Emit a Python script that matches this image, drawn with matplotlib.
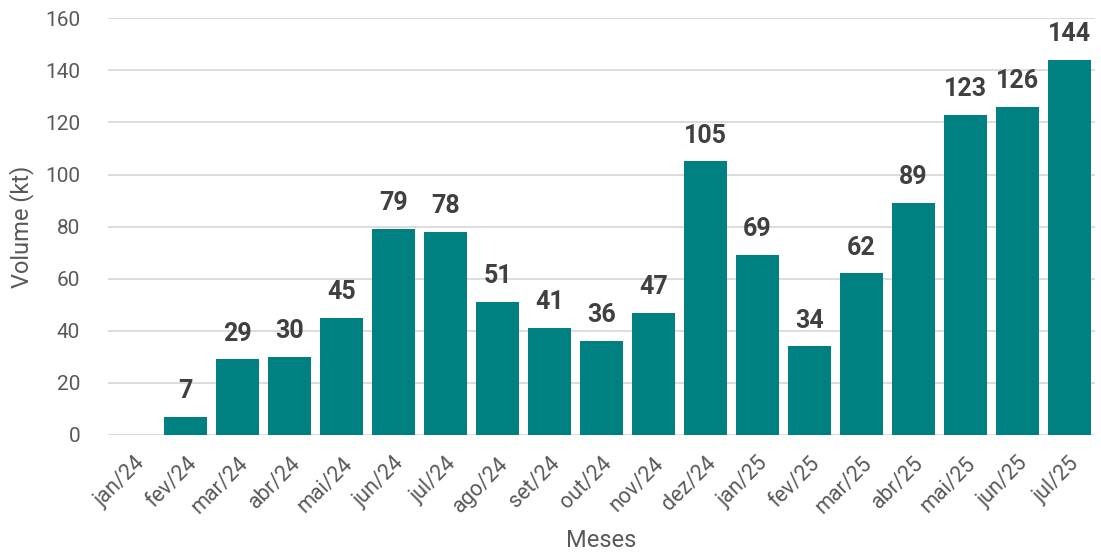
import matplotlib.pyplot as plt
import numpy as np

plt.rcParams["font.family"] = ["Roboto", "DejaVu Sans"]

meses = ["jan/24", "fev/24", "mar/24", "abr/24", "mai/24", "jun/24", "jul/24",
         "ago/24", "set/24", "out/24", "nov/24", "dez/24", "jan/25", "fev/25",
         "mar/25", "abr/25", "mai/25", "jun/25", "jul/25"]
volume = [0, 7, 29, 30, 45, 79, 78, 51, 41, 36, 47, 105, 69, 34, 62, 89, 123, 126, 144]

fig = plt.figure(figsize=(11.01, 5.52), dpi=100)
ax = fig.add_axes([0.098, 0.212, 0.8966, 0.755])

x = np.arange(len(meses))
bars = ax.bar(x, volume, width=0.83, color="#008080", zorder=3)

for xi, v in zip(x, volume):
    if v > 0:
        ax.annotate(str(v), (xi, v), xytext=(0, 10), textcoords="offset points",
                    ha="center", va="bottom", fontsize=18, fontweight="bold",
                    color="#404040")

ax.set_xlim(-0.5, len(meses) - 0.5)
ax.set_ylim(0, 160)
ax.set_yticks(range(0, 161, 20))
ax.yaxis.grid(True, color="#d9d9d9", linewidth=1.3, zorder=0)
ax.set_axisbelow(True)
for s in ax.spines.values():
    s.set_visible(False)
ax.tick_params(axis="both", length=0, labelsize=15, colors="#595959")
ax.tick_params(axis="y", pad=20)
ax.set_xticks(x)
ax.set_xticklabels(meses, rotation=45, ha="right", rotation_mode="anchor")
ax.tick_params(axis="x", labelsize=15.5, pad=13)
ax.set_ylabel("Volume (kt)", fontsize=17, color="#595959", labelpad=8)
ax.set_xlabel("Meses", fontsize=17, color="#595959", labelpad=8)

fig.savefig("out.png", dpi=100)
